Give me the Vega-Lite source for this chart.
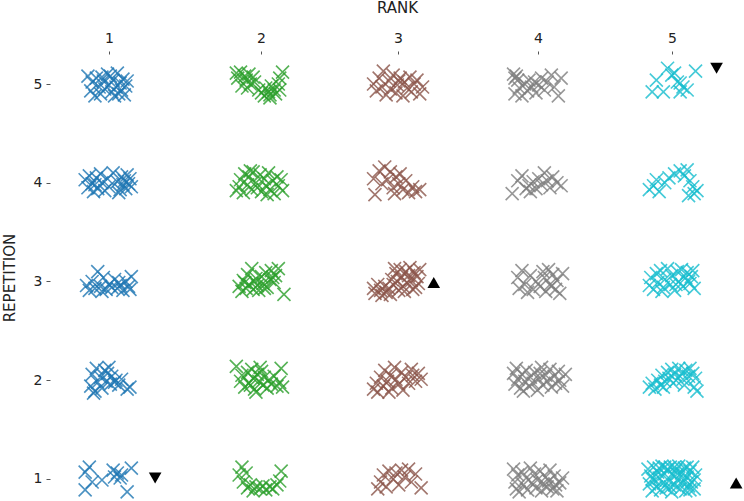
{
  "$schema": "https://vega.github.io/schema/vega-lite/v6.json",
  "width": 694,
  "height": 447,
  "autosize": "none",
  "padding": {"left": 50, "top": 54, "right": 0, "bottom": 0},
  "config": {
    "view": {"stroke": null},
    "axis": {"domain": false, "grid": false, "labelFont": "DejaVu Sans", "titleFont": "DejaVu Sans", "labelFontSize": 14, "titleFontSize": 15, "titleFontWeight": "normal", "labelColor": "#222", "titleColor": "#222", "tickColor": "#555", "tickWidth": 1}
  },
  "datasets": {
    "pts": [
      {"rank":"1","rep":5,"x":0.85,"y":5.08},{"rank":"1","rep":5,"x":0.87,"y":4.93},{"rank":"1","rep":5,"x":0.88,"y":5.02},{"rank":"1","rep":5,"x":0.90,"y":4.88},{"rank":"1","rep":5,"x":0.91,"y":5.06},{"rank":"1","rep":5,"x":0.93,"y":4.97},{"rank":"1","rep":5,"x":0.94,"y":4.90},{"rank":"1","rep":5,"x":0.96,"y":5.03},{"rank":"1","rep":5,"x":0.97,"y":4.95},{"rank":"1","rep":5,"x":0.99,"y":5.10},{"rank":"1","rep":5,"x":1.00,"y":4.99},{"rank":"1","rep":5,"x":1.01,"y":5.08},{"rank":"1","rep":5,"x":1.02,"y":4.92},{"rank":"1","rep":5,"x":1.03,"y":5.04},{"rank":"1","rep":5,"x":1.05,"y":4.97},{"rank":"1","rep":5,"x":1.06,"y":5.11},{"rank":"1","rep":5,"x":1.07,"y":4.90},{"rank":"1","rep":5,"x":1.08,"y":5.01},{"rank":"1","rep":5,"x":1.09,"y":4.94},{"rank":"1","rep":5,"x":1.10,"y":5.05},{"rank":"1","rep":5,"x":1.11,"y":4.89},{"rank":"1","rep":5,"x":1.12,"y":4.98},{"rank":"1","rep":5,"x":1.13,"y":5.03},{"rank":"1","rep":5,"x":0.95,"y":5.07},{"rank":"1","rep":5,"x":1.04,"y":4.88},
      {"rank":"1","rep":4,"x":0.83,"y":4.03},{"rank":"1","rep":4,"x":0.85,"y":3.95},{"rank":"1","rep":4,"x":0.86,"y":4.07},{"rank":"1","rep":4,"x":0.88,"y":3.99},{"rank":"1","rep":4,"x":0.89,"y":3.91},{"rank":"1","rep":4,"x":0.91,"y":4.05},{"rank":"1","rep":4,"x":0.92,"y":3.94},{"rank":"1","rep":4,"x":0.94,"y":4.09},{"rank":"1","rep":4,"x":0.95,"y":4.00},{"rank":"1","rep":4,"x":0.97,"y":3.92},{"rank":"1","rep":4,"x":0.99,"y":4.04},{"rank":"1","rep":4,"x":1.00,"y":3.96},{"rank":"1","rep":4,"x":1.06,"y":4.01},{"rank":"1","rep":4,"x":1.08,"y":3.93},{"rank":"1","rep":4,"x":1.09,"y":4.06},{"rank":"1","rep":4,"x":1.10,"y":3.98},{"rank":"1","rep":4,"x":1.11,"y":4.02},{"rank":"1","rep":4,"x":1.12,"y":3.94},{"rank":"1","rep":4,"x":1.13,"y":4.08},{"rank":"1","rep":4,"x":1.14,"y":3.99},{"rank":"1","rep":4,"x":1.15,"y":4.04},{"rank":"1","rep":4,"x":1.16,"y":3.96},{"rank":"1","rep":4,"x":1.07,"y":3.90},{"rank":"1","rep":4,"x":0.90,"y":3.98},{"rank":"1","rep":4,"x":1.03,"y":4.10},
      {"rank":"1","rep":3,"x":0.84,"y":2.96},{"rank":"1","rep":3,"x":0.86,"y":2.91},{"rank":"1","rep":3,"x":0.88,"y":3.00},{"rank":"1","rep":3,"x":0.90,"y":2.93},{"rank":"1","rep":3,"x":0.92,"y":3.10},{"rank":"1","rep":3,"x":0.94,"y":2.95},{"rank":"1","rep":3,"x":0.96,"y":3.04},{"rank":"1","rep":3,"x":0.98,"y":2.92},{"rank":"1","rep":3,"x":1.00,"y":2.97},{"rank":"1","rep":3,"x":1.02,"y":2.94},{"rank":"1","rep":3,"x":1.04,"y":3.02},{"rank":"1","rep":3,"x":1.06,"y":2.93},{"rank":"1","rep":3,"x":1.08,"y":2.96},{"rank":"1","rep":3,"x":1.10,"y":2.91},{"rank":"1","rep":3,"x":1.12,"y":3.00},{"rank":"1","rep":3,"x":1.14,"y":2.95},{"rank":"1","rep":3,"x":1.16,"y":3.05},{"rank":"1","rep":3,"x":1.15,"y":2.92},{"rank":"1","rep":3,"x":0.95,"y":2.90},{"rank":"1","rep":3,"x":1.07,"y":2.99},
      {"rank":"1","rep":2,"x":0.87,"y":1.94},{"rank":"1","rep":2,"x":0.88,"y":2.06},{"rank":"1","rep":2,"x":0.90,"y":1.89},{"rank":"1","rep":2,"x":0.91,"y":2.12},{"rank":"1","rep":2,"x":0.92,"y":1.98},{"rank":"1","rep":2,"x":0.94,"y":2.03},{"rank":"1","rep":2,"x":0.95,"y":1.92},{"rank":"1","rep":2,"x":0.97,"y":2.10},{"rank":"1","rep":2,"x":0.98,"y":1.99},{"rank":"1","rep":2,"x":1.00,"y":2.13},{"rank":"1","rep":2,"x":1.01,"y":1.96},{"rank":"1","rep":2,"x":1.02,"y":2.04},{"rank":"1","rep":2,"x":1.04,"y":1.98},{"rank":"1","rep":2,"x":1.05,"y":2.00},{"rank":"1","rep":2,"x":1.07,"y":1.95},{"rank":"1","rep":2,"x":1.09,"y":2.01},{"rank":"1","rep":2,"x":1.15,"y":1.93},{"rank":"1","rep":2,"x":1.13,"y":1.91},{"rank":"1","rep":2,"x":0.89,"y":1.87},{"rank":"1","rep":2,"x":0.99,"y":2.07},
      {"rank":"1","rep":1,"x":0.83,"y":1.07},{"rank":"1","rep":1,"x":0.86,"y":1.12},{"rank":"1","rep":1,"x":0.88,"y":0.97},{"rank":"1","rep":1,"x":0.83,"y":0.89},{"rank":"1","rep":1,"x":0.95,"y":0.99},{"rank":"1","rep":1,"x":1.03,"y":1.09},{"rank":"1","rep":1,"x":1.04,"y":1.02},{"rank":"1","rep":1,"x":1.08,"y":1.01},{"rank":"1","rep":1,"x":1.16,"y":1.11},{"rank":"1","rep":1,"x":1.13,"y":0.87},{"rank":"1","rep":1,"x":1.06,"y":1.06},{"rank":"1","rep":1,"x":1.09,"y":1.04},
      {"rank":"2","rep":5,"x":1.91,"y":5.11},{"rank":"2","rep":5,"x":1.92,"y":5.06},{"rank":"2","rep":5,"x":1.94,"y":5.12},{"rank":"2","rep":5,"x":1.97,"y":5.08},{"rank":"2","rep":5,"x":1.98,"y":5.04},{"rank":"2","rep":5,"x":2.00,"y":5.10},{"rank":"2","rep":5,"x":2.01,"y":5.00},{"rank":"2","rep":5,"x":1.99,"y":4.96},{"rank":"2","rep":5,"x":2.04,"y":5.02},{"rank":"2","rep":5,"x":2.07,"y":4.94},{"rank":"2","rep":5,"x":2.09,"y":4.91},{"rank":"2","rep":5,"x":2.11,"y":4.88},{"rank":"2","rep":5,"x":2.12,"y":4.96},{"rank":"2","rep":5,"x":2.14,"y":4.92},{"rank":"2","rep":5,"x":2.15,"y":4.89},{"rank":"2","rep":5,"x":2.16,"y":4.98},{"rank":"2","rep":5,"x":2.18,"y":4.94},{"rank":"2","rep":5,"x":2.19,"y":4.90},{"rank":"2","rep":5,"x":2.21,"y":5.00},{"rank":"2","rep":5,"x":2.22,"y":5.06},{"rank":"2","rep":5,"x":2.24,"y":5.12},{"rank":"2","rep":5,"x":2.22,"y":4.94},{"rank":"2","rep":5,"x":1.95,"y":4.98},{"rank":"2","rep":5,"x":2.03,"y":5.07},{"rank":"2","rep":5,"x":2.15,"y":4.86},
      {"rank":"2","rep":4,"x":1.91,"y":3.92},{"rank":"2","rep":4,"x":1.93,"y":3.96},{"rank":"2","rep":4,"x":1.94,"y":4.03},{"rank":"2","rep":4,"x":1.96,"y":3.90},{"rank":"2","rep":4,"x":1.97,"y":4.09},{"rank":"2","rep":4,"x":1.99,"y":3.98},{"rank":"2","rep":4,"x":2.00,"y":4.06},{"rank":"2","rep":4,"x":2.02,"y":3.93},{"rank":"2","rep":4,"x":2.03,"y":4.11},{"rank":"2","rep":4,"x":2.05,"y":4.00},{"rank":"2","rep":4,"x":2.06,"y":3.95},{"rank":"2","rep":4,"x":2.08,"y":4.08},{"rank":"2","rep":4,"x":2.09,"y":3.91},{"rank":"2","rep":4,"x":2.11,"y":4.04},{"rank":"2","rep":4,"x":2.12,"y":3.97},{"rank":"2","rep":4,"x":2.14,"y":4.10},{"rank":"2","rep":4,"x":2.15,"y":3.93},{"rank":"2","rep":4,"x":2.17,"y":4.02},{"rank":"2","rep":4,"x":2.18,"y":3.89},{"rank":"2","rep":4,"x":2.20,"y":4.06},{"rank":"2","rep":4,"x":2.21,"y":3.97},{"rank":"2","rep":4,"x":2.23,"y":4.03},{"rank":"2","rep":4,"x":2.24,"y":3.92},{"rank":"2","rep":4,"x":2.01,"y":4.12},{"rank":"2","rep":4,"x":2.13,"y":3.88},
      {"rank":"2","rep":3,"x":1.93,"y":2.95},{"rank":"2","rep":3,"x":1.95,"y":2.90},{"rank":"2","rep":3,"x":1.96,"y":3.01},{"rank":"2","rep":3,"x":1.98,"y":2.93},{"rank":"2","rep":3,"x":1.99,"y":3.07},{"rank":"2","rep":3,"x":2.00,"y":2.97},{"rank":"2","rep":3,"x":2.02,"y":3.13},{"rank":"2","rep":3,"x":2.03,"y":2.92},{"rank":"2","rep":3,"x":2.05,"y":3.03},{"rank":"2","rep":3,"x":2.06,"y":2.96},{"rank":"2","rep":3,"x":2.07,"y":2.91},{"rank":"2","rep":3,"x":2.09,"y":3.05},{"rank":"2","rep":3,"x":2.10,"y":2.98},{"rank":"2","rep":3,"x":2.12,"y":3.09},{"rank":"2","rep":3,"x":2.13,"y":2.94},{"rank":"2","rep":3,"x":2.15,"y":3.02},{"rank":"2","rep":3,"x":2.16,"y":3.11},{"rank":"2","rep":3,"x":2.18,"y":2.99},{"rank":"2","rep":3,"x":2.19,"y":3.06},{"rank":"2","rep":3,"x":2.21,"y":3.13},{"rank":"2","rep":3,"x":2.25,"y":2.87},{"rank":"2","rep":3,"x":1.97,"y":2.99},{"rank":"2","rep":3,"x":2.04,"y":3.00},{"rank":"2","rep":3,"x":2.11,"y":2.93},{"rank":"2","rep":3,"x":2.17,"y":3.04},
      {"rank":"2","rep":2,"x":1.91,"y":2.14},{"rank":"2","rep":2,"x":1.94,"y":1.99},{"rank":"2","rep":2,"x":1.95,"y":2.05},{"rank":"2","rep":2,"x":1.97,"y":1.93},{"rank":"2","rep":2,"x":1.99,"y":2.08},{"rank":"2","rep":2,"x":2.00,"y":1.97},{"rank":"2","rep":2,"x":2.02,"y":2.11},{"rank":"2","rep":2,"x":2.03,"y":2.02},{"rank":"2","rep":2,"x":2.04,"y":1.91},{"rank":"2","rep":2,"x":2.06,"y":2.06},{"rank":"2","rep":2,"x":2.07,"y":1.99},{"rank":"2","rep":2,"x":2.08,"y":2.13},{"rank":"2","rep":2,"x":2.10,"y":1.95},{"rank":"2","rep":2,"x":2.11,"y":2.03},{"rank":"2","rep":2,"x":2.13,"y":1.92},{"rank":"2","rep":2,"x":2.14,"y":2.00},{"rank":"2","rep":2,"x":2.16,"y":1.96},{"rank":"2","rep":2,"x":2.18,"y":2.04},{"rank":"2","rep":2,"x":2.20,"y":1.94},{"rank":"2","rep":2,"x":2.22,"y":1.98},{"rank":"2","rep":2,"x":2.23,"y":2.12},{"rank":"2","rep":2,"x":2.24,"y":1.93},{"rank":"2","rep":2,"x":2.01,"y":1.95},{"rank":"2","rep":2,"x":2.09,"y":2.09},{"rank":"2","rep":2,"x":2.05,"y":1.88},
      {"rank":"2","rep":1,"x":1.93,"y":1.04},{"rank":"2","rep":1,"x":1.95,"y":1.12},{"rank":"2","rep":1,"x":1.96,"y":0.97},{"rank":"2","rep":1,"x":1.98,"y":1.06},{"rank":"2","rep":1,"x":1.99,"y":0.91},{"rank":"2","rep":1,"x":2.01,"y":0.94},{"rank":"2","rep":1,"x":2.03,"y":0.88},{"rank":"2","rep":1,"x":2.05,"y":0.92},{"rank":"2","rep":1,"x":2.08,"y":0.90},{"rank":"2","rep":1,"x":2.10,"y":0.93},{"rank":"2","rep":1,"x":2.12,"y":0.89},{"rank":"2","rep":1,"x":2.15,"y":0.92},{"rank":"2","rep":1,"x":2.17,"y":0.90},{"rank":"2","rep":1,"x":2.20,"y":0.94},{"rank":"2","rep":1,"x":2.23,"y":1.08},{"rank":"2","rep":1,"x":2.22,"y":0.98},
      {"rank":"3","rep":5,"x":2.89,"y":5.00},{"rank":"3","rep":5,"x":2.91,"y":4.93},{"rank":"3","rep":5,"x":2.93,"y":5.06},{"rank":"3","rep":5,"x":2.95,"y":4.97},{"rank":"3","rep":5,"x":2.96,"y":5.13},{"rank":"3","rep":5,"x":2.98,"y":4.89},{"rank":"3","rep":5,"x":3.00,"y":5.03},{"rank":"3","rep":5,"x":3.01,"y":4.95},{"rank":"3","rep":5,"x":3.03,"y":5.09},{"rank":"3","rep":5,"x":3.05,"y":4.91},{"rank":"3","rep":5,"x":3.06,"y":4.99},{"rank":"3","rep":5,"x":3.08,"y":5.06},{"rank":"3","rep":5,"x":3.10,"y":4.88},{"rank":"3","rep":5,"x":3.11,"y":5.02},{"rank":"3","rep":5,"x":3.13,"y":4.96},{"rank":"3","rep":5,"x":3.15,"y":5.07},{"rank":"3","rep":5,"x":3.16,"y":4.92},{"rank":"3","rep":5,"x":3.18,"y":5.00},{"rank":"3","rep":5,"x":3.20,"y":5.04},{"rank":"3","rep":5,"x":3.22,"y":4.90},{"rank":"3","rep":5,"x":3.24,"y":4.97},{"rank":"3","rep":5,"x":3.07,"y":5.03},
      {"rank":"3","rep":4,"x":2.89,"y":4.04},{"rank":"3","rep":4,"x":2.90,"y":3.88},{"rank":"3","rep":4,"x":2.93,"y":4.12},{"rank":"3","rep":4,"x":2.95,"y":3.99},{"rank":"3","rep":4,"x":2.97,"y":4.16},{"rank":"3","rep":4,"x":2.99,"y":4.03},{"rank":"3","rep":4,"x":3.01,"y":4.11},{"rank":"3","rep":4,"x":3.03,"y":3.95},{"rank":"3","rep":4,"x":3.05,"y":4.06},{"rank":"3","rep":4,"x":3.07,"y":3.99},{"rank":"3","rep":4,"x":3.08,"y":4.09},{"rank":"3","rep":4,"x":3.10,"y":3.93},{"rank":"3","rep":4,"x":3.12,"y":4.02},{"rank":"3","rep":4,"x":3.14,"y":3.90},{"rank":"3","rep":4,"x":3.17,"y":3.96},{"rank":"3","rep":4,"x":3.19,"y":3.91},{"rank":"3","rep":4,"x":3.22,"y":3.93},{"rank":"3","rep":4,"x":3.04,"y":3.89},
      {"rank":"3","rep":3,"x":2.89,"y":2.93},{"rank":"3","rep":3,"x":2.90,"y":2.88},{"rank":"3","rep":3,"x":2.92,"y":2.97},{"rank":"3","rep":3,"x":2.94,"y":2.91},{"rank":"3","rep":3,"x":2.95,"y":2.86},{"rank":"3","rep":3,"x":2.97,"y":2.95},{"rank":"3","rep":3,"x":2.98,"y":2.89},{"rank":"3","rep":3,"x":3.00,"y":2.93},{"rank":"3","rep":3,"x":3.01,"y":2.87},{"rank":"3","rep":3,"x":3.02,"y":3.02},{"rank":"3","rep":3,"x":3.03,"y":2.97},{"rank":"3","rep":3,"x":3.05,"y":3.08},{"rank":"3","rep":3,"x":3.06,"y":3.00},{"rank":"3","rep":3,"x":3.08,"y":3.12},{"rank":"3","rep":3,"x":3.09,"y":3.04},{"rank":"3","rep":3,"x":3.10,"y":2.95},{"rank":"3","rep":3,"x":3.12,"y":3.10},{"rank":"3","rep":3,"x":3.13,"y":2.99},{"rank":"3","rep":3,"x":3.14,"y":3.06},{"rank":"3","rep":3,"x":3.15,"y":3.14},{"rank":"3","rep":3,"x":3.16,"y":3.01},{"rank":"3","rep":3,"x":3.18,"y":3.09},{"rank":"3","rep":3,"x":3.19,"y":2.94},{"rank":"3","rep":3,"x":3.20,"y":3.05},{"rank":"3","rep":3,"x":3.22,"y":3.12},{"rank":"3","rep":3,"x":3.21,"y":2.98},{"rank":"3","rep":3,"x":3.11,"y":2.90},{"rank":"3","rep":3,"x":3.17,"y":2.92},{"rank":"3","rep":3,"x":3.04,"y":3.13},{"rank":"3","rep":3,"x":3.07,"y":2.91},
      {"rank":"3","rep":2,"x":2.89,"y":1.91},{"rank":"3","rep":2,"x":2.91,"y":1.97},{"rank":"3","rep":2,"x":2.92,"y":1.88},{"rank":"3","rep":2,"x":2.94,"y":2.03},{"rank":"3","rep":2,"x":2.96,"y":1.94},{"rank":"3","rep":2,"x":2.97,"y":2.10},{"rank":"3","rep":2,"x":2.99,"y":1.99},{"rank":"3","rep":2,"x":3.01,"y":2.05},{"rank":"3","rep":2,"x":3.02,"y":1.92},{"rank":"3","rep":2,"x":3.04,"y":2.13},{"rank":"3","rep":2,"x":3.05,"y":2.01},{"rank":"3","rep":2,"x":3.07,"y":1.96},{"rank":"3","rep":2,"x":3.09,"y":2.08},{"rank":"3","rep":2,"x":3.10,"y":1.90},{"rank":"3","rep":2,"x":3.12,"y":2.03},{"rank":"3","rep":2,"x":3.14,"y":1.97},{"rank":"3","rep":2,"x":3.16,"y":2.11},{"rank":"3","rep":2,"x":3.17,"y":2.05},{"rank":"3","rep":2,"x":3.19,"y":1.99},{"rank":"3","rep":2,"x":3.21,"y":2.07},{"rank":"3","rep":2,"x":3.23,"y":2.01},{"rank":"3","rep":2,"x":3.00,"y":1.88},
      {"rank":"3","rep":1,"x":2.92,"y":0.90},{"rank":"3","rep":1,"x":2.94,"y":0.97},{"rank":"3","rep":1,"x":2.96,"y":1.04},{"rank":"3","rep":1,"x":2.98,"y":0.92},{"rank":"3","rep":1,"x":3.00,"y":1.08},{"rank":"3","rep":1,"x":3.03,"y":1.00},{"rank":"3","rep":1,"x":3.05,"y":1.06},{"rank":"3","rep":1,"x":3.07,"y":0.94},{"rank":"3","rep":1,"x":3.09,"y":1.09},{"rank":"3","rep":1,"x":3.11,"y":1.02},{"rank":"3","rep":1,"x":3.14,"y":1.10},{"rank":"3","rep":1,"x":3.16,"y":0.97},{"rank":"3","rep":1,"x":3.19,"y":1.05},{"rank":"3","rep":1,"x":3.23,"y":0.91},
      {"rank":"4","rep":5,"x":3.89,"y":5.10},{"rank":"4","rep":5,"x":3.90,"y":5.06},{"rank":"4","rep":5,"x":3.91,"y":5.08},{"rank":"4","rep":5,"x":3.92,"y":5.04},{"rank":"4","rep":5,"x":3.90,"y":4.90},{"rank":"4","rep":5,"x":3.93,"y":4.96},{"rank":"4","rep":5,"x":3.95,"y":4.88},{"rank":"4","rep":5,"x":3.97,"y":5.00},{"rank":"4","rep":5,"x":3.99,"y":4.93},{"rank":"4","rep":5,"x":4.00,"y":5.04},{"rank":"4","rep":5,"x":4.02,"y":4.97},{"rank":"4","rep":5,"x":4.04,"y":5.02},{"rank":"4","rep":5,"x":4.05,"y":4.91},{"rank":"4","rep":5,"x":4.07,"y":4.99},{"rank":"4","rep":5,"x":4.09,"y":5.06},{"rank":"4","rep":5,"x":4.11,"y":4.94},{"rank":"4","rep":5,"x":4.13,"y":5.02},{"rank":"4","rep":5,"x":4.16,"y":5.09},{"rank":"4","rep":5,"x":4.18,"y":4.97},{"rank":"4","rep":5,"x":4.21,"y":4.88},{"rank":"4","rep":5,"x":4.23,"y":5.06},
      {"rank":"4","rep":4,"x":3.88,"y":3.89},{"rank":"4","rep":4,"x":3.92,"y":4.02},{"rank":"4","rep":4,"x":3.95,"y":4.07},{"rank":"4","rep":4,"x":3.98,"y":3.94},{"rank":"4","rep":4,"x":4.00,"y":3.97},{"rank":"4","rep":4,"x":4.03,"y":4.01},{"rank":"4","rep":4,"x":4.05,"y":3.94},{"rank":"4","rep":4,"x":4.07,"y":4.04},{"rank":"4","rep":4,"x":4.09,"y":3.98},{"rank":"4","rep":4,"x":4.11,"y":4.10},{"rank":"4","rep":4,"x":4.13,"y":4.02},{"rank":"4","rep":4,"x":4.15,"y":3.95},{"rank":"4","rep":4,"x":4.17,"y":4.06},{"rank":"4","rep":4,"x":4.20,"y":4.00},{"rank":"4","rep":4,"x":4.23,"y":3.97},{"rank":"4","rep":4,"x":4.01,"y":3.91},
      {"rank":"4","rep":3,"x":3.92,"y":3.04},{"rank":"4","rep":3,"x":3.93,"y":2.93},{"rank":"4","rep":3,"x":3.95,"y":3.11},{"rank":"4","rep":3,"x":3.97,"y":2.97},{"rank":"4","rep":3,"x":3.99,"y":2.89},{"rank":"4","rep":3,"x":4.01,"y":3.06},{"rank":"4","rep":3,"x":4.03,"y":2.92},{"rank":"4","rep":3,"x":4.05,"y":3.00},{"rank":"4","rep":3,"x":4.08,"y":2.95},{"rank":"4","rep":3,"x":4.10,"y":3.10},{"rank":"4","rep":3,"x":4.11,"y":3.04},{"rank":"4","rep":3,"x":4.12,"y":2.90},{"rank":"4","rep":3,"x":4.14,"y":3.12},{"rank":"4","rep":3,"x":4.15,"y":2.97},{"rank":"4","rep":3,"x":4.17,"y":3.07},{"rank":"4","rep":3,"x":4.19,"y":2.92},{"rank":"4","rep":3,"x":4.20,"y":3.01},{"rank":"4","rep":3,"x":4.22,"y":2.88},{"rank":"4","rep":3,"x":4.24,"y":3.08},{"rank":"4","rep":3,"x":4.16,"y":2.95},
      {"rank":"4","rep":2,"x":3.89,"y":2.07},{"rank":"4","rep":2,"x":3.90,"y":1.96},{"rank":"4","rep":2,"x":3.91,"y":2.12},{"rank":"4","rep":2,"x":3.92,"y":2.01},{"rank":"4","rep":2,"x":3.94,"y":1.92},{"rank":"4","rep":2,"x":3.95,"y":2.06},{"rank":"4","rep":2,"x":3.97,"y":1.99},{"rank":"4","rep":2,"x":3.98,"y":2.10},{"rank":"4","rep":2,"x":4.00,"y":1.94},{"rank":"4","rep":2,"x":4.01,"y":2.03},{"rank":"4","rep":2,"x":4.03,"y":1.97},{"rank":"4","rep":2,"x":4.04,"y":2.08},{"rank":"4","rep":2,"x":4.06,"y":1.90},{"rank":"4","rep":2,"x":4.07,"y":2.01},{"rank":"4","rep":2,"x":4.09,"y":2.13},{"rank":"4","rep":2,"x":4.10,"y":1.95},{"rank":"4","rep":2,"x":4.12,"y":2.05},{"rank":"4","rep":2,"x":4.13,"y":1.99},{"rank":"4","rep":2,"x":4.15,"y":2.11},{"rank":"4","rep":2,"x":4.16,"y":1.93},{"rank":"4","rep":2,"x":4.18,"y":2.04},{"rank":"4","rep":2,"x":4.19,"y":1.97},{"rank":"4","rep":2,"x":4.21,"y":2.09},{"rank":"4","rep":2,"x":4.22,"y":2.00},{"rank":"4","rep":2,"x":4.24,"y":1.94},{"rank":"4","rep":2,"x":4.26,"y":2.06},{"rank":"4","rep":2,"x":3.96,"y":1.89},{"rank":"4","rep":2,"x":4.08,"y":2.07},
      {"rank":"4","rep":1,"x":3.89,"y":1.10},{"rank":"4","rep":1,"x":3.90,"y":0.97},{"rank":"4","rep":1,"x":3.91,"y":0.90},{"rank":"4","rep":1,"x":3.92,"y":1.04},{"rank":"4","rep":1,"x":3.93,"y":0.87},{"rank":"4","rep":1,"x":3.95,"y":1.07},{"rank":"4","rep":1,"x":3.96,"y":0.94},{"rank":"4","rep":1,"x":3.98,"y":1.01},{"rank":"4","rep":1,"x":3.99,"y":0.89},{"rank":"4","rep":1,"x":4.01,"y":1.11},{"rank":"4","rep":1,"x":4.02,"y":0.96},{"rank":"4","rep":1,"x":4.04,"y":1.05},{"rank":"4","rep":1,"x":4.05,"y":0.91},{"rank":"4","rep":1,"x":4.06,"y":0.99},{"rank":"4","rep":1,"x":4.08,"y":1.08},{"rank":"4","rep":1,"x":4.09,"y":0.88},{"rank":"4","rep":1,"x":4.10,"y":0.95},{"rank":"4","rep":1,"x":4.12,"y":1.02},{"rank":"4","rep":1,"x":4.13,"y":0.92},{"rank":"4","rep":1,"x":4.14,"y":0.98},{"rank":"4","rep":1,"x":4.15,"y":1.09},{"rank":"4","rep":1,"x":4.17,"y":0.90},{"rank":"4","rep":1,"x":4.18,"y":1.03},{"rank":"4","rep":1,"x":4.19,"y":0.94},{"rank":"4","rep":1,"x":4.20,"y":0.88},{"rank":"4","rep":1,"x":4.22,"y":0.96},{"rank":"4","rep":1,"x":4.24,"y":1.01},
      {"rank":"5","rep":5,"x":4.88,"y":4.92},{"rank":"5","rep":5,"x":4.91,"y":5.04},{"rank":"5","rep":5,"x":4.96,"y":4.92},{"rank":"5","rep":5,"x":4.99,"y":5.16},{"rank":"5","rep":5,"x":5.02,"y":5.09},{"rank":"5","rep":5,"x":5.06,"y":5.02},{"rank":"5","rep":5,"x":5.08,"y":4.92},{"rank":"5","rep":5,"x":5.10,"y":4.97},{"rank":"5","rep":5,"x":5.13,"y":4.94},{"rank":"5","rep":5,"x":5.19,"y":5.13},{"rank":"5","rep":5,"x":5.04,"y":5.11},{"rank":"5","rep":5,"x":5.08,"y":5.01},
      {"rank":"5","rep":4,"x":4.86,"y":3.93},{"rank":"5","rep":4,"x":4.89,"y":3.97},{"rank":"5","rep":4,"x":4.91,"y":4.03},{"rank":"5","rep":4,"x":4.93,"y":3.91},{"rank":"5","rep":4,"x":4.97,"y":4.00},{"rank":"5","rep":4,"x":5.00,"y":4.05},{"rank":"5","rep":4,"x":5.04,"y":4.09},{"rank":"5","rep":4,"x":5.08,"y":4.12},{"rank":"5","rep":4,"x":5.11,"y":4.07},{"rank":"5","rep":4,"x":5.13,"y":4.13},{"rank":"5","rep":4,"x":5.15,"y":4.02},{"rank":"5","rep":4,"x":5.17,"y":3.96},{"rank":"5","rep":4,"x":5.18,"y":3.89},{"rank":"5","rep":4,"x":5.20,"y":3.92},{"rank":"5","rep":4,"x":5.14,"y":3.87},
      {"rank":"5","rep":3,"x":4.86,"y":2.96},{"rank":"5","rep":3,"x":4.87,"y":3.04},{"rank":"5","rep":3,"x":4.89,"y":2.92},{"rank":"5","rep":3,"x":4.91,"y":3.08},{"rank":"5","rep":3,"x":4.92,"y":2.99},{"rank":"5","rep":3,"x":4.94,"y":3.11},{"rank":"5","rep":3,"x":4.96,"y":2.94},{"rank":"5","rep":3,"x":4.97,"y":3.02},{"rank":"5","rep":3,"x":4.99,"y":3.13},{"rank":"5","rep":3,"x":5.01,"y":2.97},{"rank":"5","rep":3,"x":5.02,"y":3.06},{"rank":"5","rep":3,"x":5.04,"y":2.91},{"rank":"5","rep":3,"x":5.06,"y":3.10},{"rank":"5","rep":3,"x":5.07,"y":3.00},{"rank":"5","rep":3,"x":5.09,"y":3.12},{"rank":"5","rep":3,"x":5.10,"y":2.95},{"rank":"5","rep":3,"x":5.12,"y":3.04},{"rank":"5","rep":3,"x":5.13,"y":3.09},{"rank":"5","rep":3,"x":5.15,"y":2.98},{"rank":"5","rep":3,"x":5.16,"y":3.05},{"rank":"5","rep":3,"x":5.18,"y":2.93},{"rank":"5","rep":3,"x":5.17,"y":3.11},{"rank":"5","rep":3,"x":4.95,"y":2.90},{"rank":"5","rep":3,"x":5.05,"y":2.97},{"rank":"5","rep":3,"x":5.14,"y":3.00},
      {"rank":"5","rep":2,"x":4.86,"y":1.93},{"rank":"5","rep":2,"x":4.88,"y":1.97},{"rank":"5","rep":2,"x":4.90,"y":1.91},{"rank":"5","rep":2,"x":4.92,"y":2.00},{"rank":"5","rep":2,"x":4.94,"y":1.95},{"rank":"5","rep":2,"x":4.95,"y":2.05},{"rank":"5","rep":2,"x":4.97,"y":1.99},{"rank":"5","rep":2,"x":4.99,"y":2.08},{"rank":"5","rep":2,"x":5.00,"y":2.02},{"rank":"5","rep":2,"x":5.02,"y":2.11},{"rank":"5","rep":2,"x":5.04,"y":2.06},{"rank":"5","rep":2,"x":5.05,"y":2.00},{"rank":"5","rep":2,"x":5.07,"y":2.12},{"rank":"5","rep":2,"x":5.09,"y":2.07},{"rank":"5","rep":2,"x":5.10,"y":2.01},{"rank":"5","rep":2,"x":5.12,"y":2.10},{"rank":"5","rep":2,"x":5.14,"y":2.04},{"rank":"5","rep":2,"x":5.15,"y":2.12},{"rank":"5","rep":2,"x":5.17,"y":2.07},{"rank":"5","rep":2,"x":5.18,"y":1.93},{"rank":"5","rep":2,"x":5.20,"y":1.89},{"rank":"5","rep":2,"x":5.19,"y":2.02},{"rank":"5","rep":2,"x":4.96,"y":1.93},{"rank":"5","rep":2,"x":5.11,"y":1.95},{"rank":"5","rep":2,"x":5.03,"y":1.97},
      {"rank":"5","rep":1,"x":4.85,"y":1.10},{"rank":"5","rep":1,"x":4.86,"y":0.95},{"rank":"5","rep":1,"x":4.87,"y":1.03},{"rank":"5","rep":1,"x":4.88,"y":0.88},{"rank":"5","rep":1,"x":4.89,"y":1.12},{"rank":"5","rep":1,"x":4.90,"y":0.99},{"rank":"5","rep":1,"x":4.91,"y":0.92},{"rank":"5","rep":1,"x":4.92,"y":1.07},{"rank":"5","rep":1,"x":4.93,"y":1.01},{"rank":"5","rep":1,"x":4.94,"y":0.89},{"rank":"5","rep":1,"x":4.95,"y":1.13},{"rank":"5","rep":1,"x":4.96,"y":0.96},{"rank":"5","rep":1,"x":4.97,"y":1.05},{"rank":"5","rep":1,"x":4.98,"y":0.91},{"rank":"5","rep":1,"x":4.99,"y":1.10},{"rank":"5","rep":1,"x":5.00,"y":0.98},{"rank":"5","rep":1,"x":5.01,"y":1.12},{"rank":"5","rep":1,"x":5.02,"y":0.87},{"rank":"5","rep":1,"x":5.03,"y":1.04},{"rank":"5","rep":1,"x":5.04,"y":0.94},{"rank":"5","rep":1,"x":5.05,"y":1.09},{"rank":"5","rep":1,"x":5.06,"y":0.99},{"rank":"5","rep":1,"x":5.07,"y":1.13},{"rank":"5","rep":1,"x":5.08,"y":0.90},{"rank":"5","rep":1,"x":5.09,"y":1.06},{"rank":"5","rep":1,"x":5.10,"y":0.96},{"rank":"5","rep":1,"x":5.11,"y":1.11},{"rank":"5","rep":1,"x":5.12,"y":0.88},{"rank":"5","rep":1,"x":5.13,"y":1.02},{"rank":"5","rep":1,"x":5.14,"y":0.93},{"rank":"5","rep":1,"x":5.15,"y":1.08},{"rank":"5","rep":1,"x":5.16,"y":0.97},{"rank":"5","rep":1,"x":5.17,"y":1.12},{"rank":"5","rep":1,"x":5.18,"y":0.90},{"rank":"5","rep":1,"x":5.19,"y":1.04},{"rank":"5","rep":1,"x":5.18,"y":0.99},{"rank":"5","rep":1,"x":4.88,"y":1.00},{"rank":"5","rep":1,"x":4.93,"y":1.11},{"rank":"5","rep":1,"x":5.01,"y":0.92},{"rank":"5","rep":1,"x":5.06,"y":1.05},{"rank":"5","rep":1,"x":5.11,"y":1.00},{"rank":"5","rep":1,"x":5.15,"y":0.89},{"rank":"5","rep":1,"x":4.97,"y":1.12},{"rank":"5","rep":1,"x":5.04,"y":1.12},{"rank":"5","rep":1,"x":5.13,"y":1.12}
    ],
    "marks": [
      {"x": 1.33, "y": 1.01, "dir": "down"},
      {"x": 3.32, "y": 2.99, "dir": "up"},
      {"x": 5.34, "y": 5.16, "dir": "down"},
      {"x": 5.48, "y": 0.96, "dir": "up"}
    ]
  },
  "encoding": {
    "x": {
      "field": "x", "type": "quantitative",
      "scale": {"domain": [0.579, 5.536], "nice": false, "zero": false},
      "axis": {"orient": "top", "title": "RANK", "values": [1, 2.086, 3.064, 4.064, 5.021], "labelExpr": "format(round(datum.value), 'd')", "tickSize": 3, "labelPadding": 6, "titlePadding": 16}
    },
    "y": {
      "field": "y", "type": "quantitative",
      "scale": {"domain": [0.777, 5.304], "nice": false, "zero": false},
      "axis": {"title": "REPETITION", "values": [1, 2, 3, 4, 5], "format": "d", "tickSize": 4, "labelPadding": 4, "titlePadding": 16}
    }
  },
  "layer": [
    {
      "data": {"name": "pts"},
      "mark": {"type": "point", "shape": "M-1,-1L1,1M-1,1L1,-1", "filled": false, "size": 169, "strokeWidth": 1.6, "opacity": 0.8},
      "encoding": {
        "color": {"field": "rank", "type": "nominal", "scale": {"domain": ["1","2","3","4","5"], "range": ["#1f77b4", "#2ca02c", "#8c564b", "#7f7f7f", "#17becf"]}, "legend": null}
      }
    },
    {
      "data": {"name": "marks"},
      "mark": {"type": "point", "filled": true, "size": 160, "color": "black", "opacity": 1},
      "encoding": {
        "shape": {"field": "dir", "type": "nominal", "scale": {"domain": ["up", "down"], "range": ["triangle-up", "triangle-down"]}, "legend": null}
      }
    }
  ]
}
